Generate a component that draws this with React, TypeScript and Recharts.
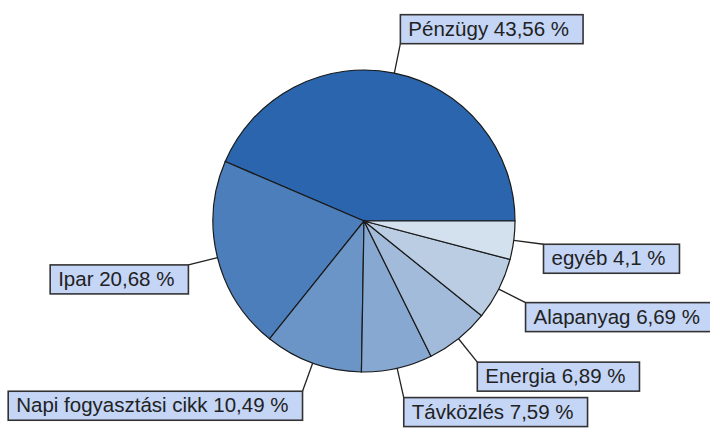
import { PieChart, Pie, Cell } from 'recharts'

const SECTORS = ['Pénzügy', 'Ipar', 'Napi fogyasztási cikk', 'Távközlés', 'Energia', 'Alapanyag', 'egyéb']
const SHARES = [43.56, 20.68, 10.49, 7.59, 6.89, 6.69, 4.1]
const COLORS = ['#2a65ad', '#4b7ebb', '#6a95c6', '#86a8d1', '#a3bbdb', '#bacde3', '#d3e0ee']

const FONT = "20.5px 'Liberation Sans', Arial, sans-serif"
const BOX_H = 29

let ctx: CanvasRenderingContext2D | null = null
function textWidth(s: string) {
  if (!ctx) ctx = document.createElement('canvas').getContext('2d')
  if (!ctx) return s.length * 10
  ctx.font = FONT
  return ctx.measureText(s).width
}

const data = SECTORS.map((name, i) => ({ name, value: SHARES[i] }))

const RAD = Math.PI / 180

function renderLabel(props: any) {
  const { cx, cy, midAngle, outerRadius, name, value, index } = props
  const cos = Math.cos(-midAngle * RAD)
  const sin = Math.sin(-midAngle * RAD)
  const sx = cx + outerRadius * cos
  const sy = cy + outerRadius * sin
  const ex = cx + (outerRadius + 30) * cos
  const ey = cy + (outerRadius + 30) * sin
  const text = `${name} ${String(value).replace('.', ',')} %`
  const w = textWidth(text) + 22
  let bx = ex
  let by = ey
  if (sin < 0) {
    by = ey - BOX_H
  } else if (cos < 0) {
    bx = ex - w
  }
  return (
    <g key={`lbl-${index}`}>
      <line x1={sx} y1={sy} x2={ex} y2={ey} stroke="#222" strokeWidth={1.3} />
      <rect x={bx} y={by} width={w} height={BOX_H} fill="#c4d5f6" stroke="#333" strokeWidth={1.6} />
      <text x={bx + 8} y={by + 21} fill="#222" style={{ font: FONT }}>
        {text}
      </text>
    </g>
  )
}

export default function App() {
  return (
    <div style={{ width: 710, height: 428, background: '#fff' }}>
      <style>{`body{margin:0}`}</style>
      <PieChart width={710} height={428} margin={{ top: 0, right: 0, bottom: 0, left: 0 }}>
        <Pie
          data={data}
          dataKey="value"
          nameKey="name"
          cx={364}
          cy={221}
          outerRadius={151}
          startAngle={0}
          endAngle={360}
          stroke="#1a1a1a"
          strokeWidth={1.2}
          label={renderLabel}
          labelLine={false}
          isAnimationActive={false}
        >
          {data.map((d, i) => (
            <Cell key={d.name} fill={COLORS[i]} />
          ))}
        </Pie>
      </PieChart>
    </div>
  )
}
